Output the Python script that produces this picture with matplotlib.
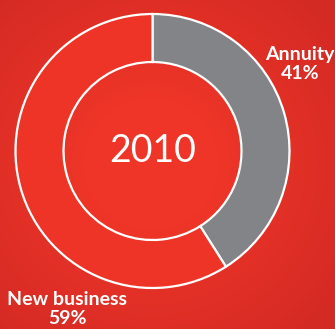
import numpy as np
import matplotlib.pyplot as plt

# Business mix, 2010
labels = ['Annuity', 'New business']
shares = [41, 59]
colors = ['#838487', '#EE3427']
year = '2010'

W, H = 335, 329
fig = plt.figure(figsize=(W / 100, H / 100), dpi=100)
ax = fig.add_axes([0, 0, 1, 1])
ax.set_xlim(0, W)
ax.set_ylim(0, H)
ax.axis('off')

# soft radial red backdrop
yy, xx = np.mgrid[0:H, 0:W]
dist = np.hypot((xx - W * 0.45) / W, (yy - H * 0.5) / H)
t = np.clip((dist - 0.2) / 0.5, 0, 1)[..., None]
inner = np.array([0xEE, 0x35, 0x28]) / 255
outer = np.array([0xD3, 0x2A, 0x24]) / 255
bg = inner * (1 - t) + outer * t
ax.imshow(bg, extent=[0, W, 0, H], origin='lower', zorder=0, aspect='auto')

cx, cy = 152.5, H - 151
R, r = 137, 89
ax.pie(shares, colors=colors, radius=R, center=(cx, cy), startangle=90,
       counterclock=False, frame=True,
       wedgeprops=dict(width=R - r, edgecolor='white', linewidth=1.6))
ax.set_xlim(0, W)
ax.set_ylim(0, H)
ax.set_aspect('auto')
ax.axis('off')

ax.text(cx, cy, year, color='white', fontsize=27, family='Lato',
        ha='center', va='center')

lbl = dict(color='white', fontsize=14, fontweight='bold', family='Lato',
           ha='center', va='center', linespacing=1.1)
ax.text(300, H - 64, f'{labels[0]}\n{shares[0]}%', **lbl)
ax.text(67, H - 309, f'{labels[1]}\n{shares[1]}%', **lbl)

fig.savefig('out.png', dpi=100)
